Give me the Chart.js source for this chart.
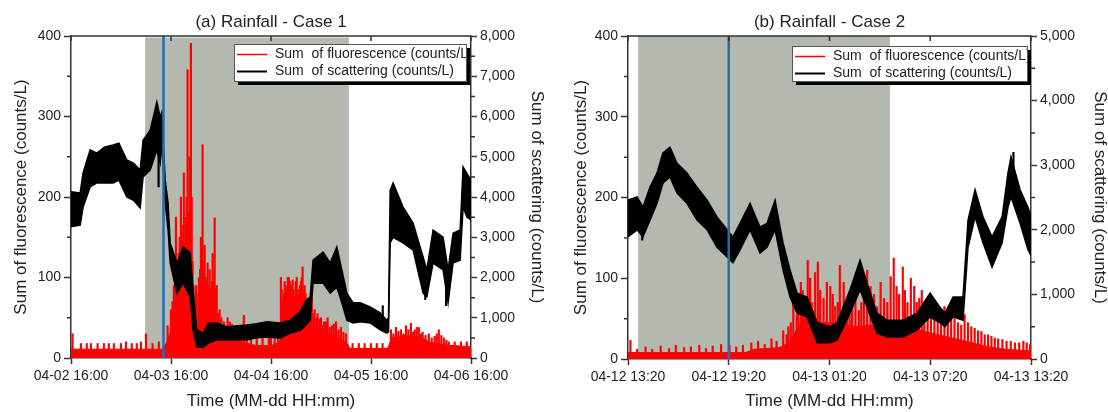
<!DOCTYPE html>
<html>
<head>
<meta charset="utf-8">
<script src="https://cdn.jsdelivr.net/npm/chart.js@4.4.1/dist/chart.umd.min.js"></script>
<style>
    body { margin: 0; background: #fff; }
    .panel { position: absolute; top: 0; width: 554px; height: 412px; }
</style>
</head>
<body>
<div class="panel" style="left:0"><canvas id="chartA"></canvas></div>
<div class="panel" style="left:554px"><canvas id="chartB"></canvas></div>
<script>
// x values are hours from the first tick
const xLabelsA = ['04-02 16:00', '04-03 16:00', '04-04 16:00', '04-05 16:00', '04-06 16:00'];
const xLabelsB = ['04-12 13:20', '04-12 19:20', '04-13 01:20', '04-13 07:20', '04-13 13:20'];

// scattering band (upper / lower edge of the noisy trace), right axis
const scaHoursA = [0, 2.2, 2.9, 4.6, 6.2, 8.0, 10.1, 11.5, 13.4, 15.0, 16.6, 17.3, 19.0, 20.6, 21.4, 21.8, 22.6, 23.3, 23.8, 25.4, 26.9, 28.6, 29.3, 30.2, 31.7, 33.0, 35.0, 37.4, 40.0, 42.2, 44.5, 47.0, 50.2, 52.6, 55.0, 56.2, 57.4, 58.1, 60.5, 62.2, 63.8, 65.0, 66.2, 67.7, 69.4, 71.8, 74.2, 75.8, 76.2, 76.6, 77.3, 79.7, 82.1, 84.5, 85.4, 86.9, 89.3, 90.5, 91.7, 93.4, 94.1, 95.0, 96.0];
const scaHiA = [4130, 4100, 4600, 5170, 5090, 5240, 5290, 5340, 4920, 4840, 4670, 5410, 5660, 6360, 5990, 6110, 4420, 3850, 2860, 2360, 2760, 2610, 1690, 700, 620, 870, 870, 770, 800, 820, 850, 900, 870, 940, 1150, 1400, 1520, 2430, 2630, 2360, 2760, 2190, 1610, 1370, 1370, 1270, 1120, 940, 1000, 4170, 4350, 3750, 3350, 2510, 2190, 3180, 3000, 2190, 3100, 3180, 4750, 4590, 4420];
const scaLoA = [3260, 3300, 3750, 4250, 4350, 4350, 4350, 4420, 4000, 3920, 3730, 4500, 4670, 5170, 4840, 5340, 3850, 3180, 2360, 1610, 1860, 1520, 700, 270, 270, 370, 450, 450, 450, 450, 500, 520, 500, 620, 680, 800, 940, 1860, 1860, 1610, 1760, 1370, 940, 870, 900, 870, 700, 620, 650, 2860, 3000, 2860, 2680, 1610, 1520, 2360, 2190, 1370, 2360, 2430, 3750, 3500, 3430];
// single excursions of the scattering trace [hour, low, high]
const scaOutHoursA = [21.2, 75.0, 85.2, 90.2];
const scaOutLoA = [4250, 700, 1450, 1300];
const scaOutHiA = [5600, 1300, 2100, 2300];

const scaHoursB = [0, 0.54, 0.89, 1.31, 1.73, 2.08, 2.5, 2.92, 3.51, 4.11, 4.71, 5.3, 5.9, 6.25, 6.67, 7.27, 7.86, 8.28, 8.76, 9.23, 9.65, 10.07, 10.66, 11.26, 12.03, 12.45, 13.22, 13.82, 14.23, 14.83, 15.43, 16.38, 17.21, 17.99, 18.58, 18.88, 19.36, 19.95, 20.25, 20.67, 21.14, 21.68, 22.28, 22.63, 22.81, 23.35, 23.82, 24];
const scaHiB = [2460, 2510, 2350, 2660, 2880, 3190, 3280, 3030, 2880, 2660, 2460, 2200, 2000, 1890, 2100, 2410, 2040, 2100, 2460, 1800, 1380, 1020, 960, 560, 500, 560, 1070, 1530, 1180, 710, 600, 600, 710, 1020, 800, 710, 960, 960, 2150, 2620, 2200, 1890, 2200, 2880, 3130, 2620, 2350, 2200];
const scaLoB = [1890, 2000, 1890, 2150, 2410, 2720, 2820, 2570, 2410, 2150, 2000, 1730, 1580, 1490, 1690, 2000, 1640, 1730, 2000, 1380, 960, 710, 650, 250, 250, 290, 710, 1070, 800, 400, 340, 340, 450, 650, 560, 500, 650, 600, 1730, 2200, 1800, 1420, 1800, 2350, 2510, 2100, 1690, 1600];
const scaOutHoursB = [0.89, 23.0];
const scaOutLoB = [1840, 2600];
const scaOutHiB = [2350, 3200];

// fluorescence: dense lower part and single spikes, left axis
const denseHoursA = [0, 22, 23, 24, 25, 26, 27, 28, 29, 30, 31, 32, 33, 34, 35, 37, 39, 41, 44, 48, 50, 51, 53, 55, 56, 57, 58, 60, 62, 64, 66, 67, 76, 77, 80, 84, 86, 90, 96];
const denseA = [11, 11, 20, 35, 55, 65, 70, 70, 60, 40, 60, 70, 60, 45, 35, 30, 25, 20, 16, 15, 20, 40, 55, 60, 55, 45, 40, 30, 30, 25, 20, 12, 12, 25, 28, 26, 20, 16, 14];
const spikeHoursA = [0.2, 2.2, 3.6, 4.6, 6.2, 7.7, 8.9, 10.1, 11.8, 13.0, 14.4, 15.6, 16.6, 17.8, 19.4, 20.9,
    23.0, 23.8, 24.5, 25.0, 25.4, 25.9, 26.2, 26.6, 26.9, 27.4, 27.8, 28.3, 28.6, 29.0, 29.8, 30.5, 31.0, 31.4, 31.9, 32.6, 33.1, 33.8, 34.3, 34.8, 35.5, 36.5, 37.4, 38.4, 39.6, 41.3, 43.0, 44.4, 45.8, 47.3, 48.7,
    50.2, 50.6, 51.1, 51.6, 52.1, 52.6, 53.0, 53.5, 54.0, 54.5, 55.0, 55.4, 55.9, 56.4, 56.9, 57.6, 58.3, 59.0, 59.8, 60.5, 61.4, 62.4, 63.4, 64.6, 65.8,
    67.4, 68.9, 70.3, 71.8, 73.2, 74.6,
    76.6, 77.8, 79.0, 80.2, 81.4, 82.3, 83.3, 84.2, 85.7, 87.1, 88.1, 89.3, 90.5, 91.9, 93.4, 94.8,
    24.2, 24.8, 25.2, 25.7, 26.0, 26.4, 26.75, 27.1, 27.6, 28.0, 28.45, 28.8, 29.2, 29.5, 30.0, 30.8, 31.2, 31.6, 32.1, 32.4, 32.9, 33.4, 33.6, 34.0, 34.5, 35.1, 35.9, 36.9, 37.9, 39.0, 40.5, 42.0, 47.8, 49.5,
    50.4, 50.9, 51.35, 51.85, 52.35, 52.8, 53.25, 53.75, 54.25, 54.75, 55.2, 55.65, 56.15, 56.65, 57.2, 58.0, 58.7, 59.4, 60.1, 61.0, 61.9, 62.9, 64.0, 65.2,
    77.2, 78.4, 79.6, 80.8, 81.9, 82.8, 83.8, 84.9, 86.4, 87.6, 88.7, 89.9];
const spikeA = [30, 18, 18, 18, 18, 18, 18, 18, 18, 20, 18, 18, 20, 30, 18, 20,
    40, 60, 90, 175, 120, 150, 200, 145, 230, 175, 358, 250, 391, 120, 90, 100, 150, 265, 140, 118, 110, 130, 174, 90, 60, 45, 50, 42, 40, 53, 35, 30, 28, 25, 30,
    100, 70, 95, 85, 100, 80, 97, 75, 100, 85, 95, 113, 90, 70, 65, 75, 60, 55, 50, 45, 50, 40, 45, 38, 30,
    18, 18, 18, 18, 18, 18,
    35, 38, 35, 40, 43, 35, 38, 32, 30, 27, 35, 25, 20, 20, 20, 20,
    70, 110, 95, 130, 100, 165, 120, 140, 200, 180, 150, 200, 90, 70, 80, 110, 130, 120, 100, 95, 90, 85, 95, 100, 85, 55, 50, 40, 45, 38, 35, 38, 25, 40,
    85, 80, 90, 100, 95, 90, 85, 95, 80, 90, 100, 85, 80, 60, 55, 55, 50, 48, 40, 45, 38, 42, 35, 32,
    30, 33, 30, 35, 32, 38, 30, 28, 25, 30, 28, 22];

const denseHoursB = [0, 7, 7.5, 9, 9.6, 10, 10.5, 11, 11.5, 12.5, 13.5, 14.5, 15.5, 16.5, 17.5, 18.5, 19.5, 20.5, 21.5, 22.5, 24];
const denseB = [8, 8, 12, 14, 20, 35, 50, 55, 45, 45, 40, 42, 45, 38, 35, 30, 25, 20, 15, 12, 10];
const spikeHoursB = [0.1, 0.5, 1.0, 1.4, 1.9, 2.4, 2.8, 3.3, 3.7, 4.2, 4.6, 5.0, 5.5, 6.0, 6.4, 6.8, 7.3, 7.7, 8.1, 8.5, 8.8, 9.2, 9.4, 9.65, 9.8, 10.1, 10.36, 10.66, 10.9, 11.1, 11.26, 11.6, 12.0, 12.3, 12.57, 13.0, 13.3, 13.7, 14.0, 14.4, 14.8, 15.2, 15.6, 15.78, 16.1, 16.32, 16.6, 17.0, 17.3, 17.6, 18.0, 18.4, 18.8, 19.2, 19.6, 20.0, 20.4, 20.8, 21.2, 21.6, 22.0, 22.5, 23.0, 23.5, 23.9,
    9.5, 10.0, 10.25, 10.5, 10.8, 11.0, 11.4, 11.8, 12.15, 12.45, 12.8, 13.15, 13.5, 13.85, 14.2, 14.6, 15.0, 15.4, 15.95, 16.45, 16.8, 17.15, 17.45, 17.8, 18.2, 18.6, 19.0, 19.4, 19.8, 20.2, 20.6, 21.0, 21.4, 21.8, 22.25, 22.75, 23.25, 23.7];
const spikeB = [23, 12, 15, 12, 16, 13, 17, 14, 15, 17, 13, 16, 18, 17, 15, 17, 20, 22, 18, 25, 22, 35, 30, 45, 85, 60, 85, 122, 70, 107, 120, 75, 90, 65, 116, 70, 85, 60, 78, 90, 65, 75, 102, 125, 80, 114, 70, 90, 75, 60, 80, 55, 65, 50, 45, 55, 40, 35, 30, 28, 25, 22, 20, 22, 18,
    40, 55, 95, 75, 100, 60, 85, 95, 80, 70, 95, 65, 100, 70, 110, 80, 95, 70, 90, 85, 100, 70, 85, 65, 70, 60, 55, 50, 42, 45, 38, 34, 30, 26, 24, 22, 20, 20];

// rainfall period (shaded) and marker line, in hours
const rainA = [17.8, 66.7];
const markerA = 22.2;
const rainB = [0.6, 15.6];
const markerB = 6.0;

const leftMinor = [50, 150, 250, 350];
const rightMinorA = [500, 1500, 2500, 3500, 4500, 5500, 6500, 7500];
const rightMinorB = [500, 1500, 2500, 3500, 4500];

const FONT = "'Liberation Sans', Arial, sans-serif";
const AXIS = '#333';
const TEXT = '#222';
Chart.defaults.font.family = FONT;
Chart.defaults.color = TEXT;

const pts = (xs, ys) => xs.map((x, i) => ({ x: x, y: ys[i] }));
const spans = (xs, lo, hi) => xs.map((x, i) => ({ x: x, y: [lo[i], hi[i]] }));

const deco = {
    id: 'deco',
    beforeDatasetsDraw(chart, args, o) {
        const { ctx, chartArea: a, scales: { x } } = chart;
        const x0 = x.getPixelForValue(o.rain[0]);
        const x1 = x.getPixelForValue(o.rain[1]);
        ctx.save();
        ctx.fillStyle = '#b4b9b0';
        ctx.fillRect(x0, a.top + o.shadeGap, x1 - x0, a.bottom - a.top - o.shadeGap);
        ctx.restore();
    },
    afterDatasetsDraw(chart, args, o) {
        const { ctx, chartArea: a, scales: { x } } = chart;
        const xm = x.getPixelForValue(o.marker);
        ctx.save();
        ctx.strokeStyle = '#1f6fae';
        ctx.lineWidth = 2.5;
        ctx.beginPath();
        ctx.moveTo(xm, a.top);
        ctx.lineTo(xm, a.bottom);
        ctx.stroke();
        ctx.restore();
    },
    afterDraw(chart, args, o) {
        const { ctx, chartArea: a, scales: { x, y, y1 } } = chart;
        ctx.save();
        ctx.strokeStyle = AXIS;
        ctx.lineWidth = 1.5;
        ctx.beginPath();
        // top frame and inward ticks
        ctx.moveTo(a.left, a.top);
        ctx.lineTo(a.right, a.top);
        x.ticks.forEach(t => {
            const px = x.getPixelForValue(t.value);
            ctx.moveTo(px, a.top);
            ctx.lineTo(px, a.top + 5);
        });
        // minor ticks
        leftMinor.forEach(v => {
            const py = y.getPixelForValue(v);
            ctx.moveTo(a.left - 4, py);
            ctx.lineTo(a.left, py);
        });
        o.rightMinor.forEach(v => {
            const py = y1.getPixelForValue(v);
            ctx.moveTo(a.right, py);
            ctx.lineTo(a.right + 4, py);
        });
        ctx.stroke();

        // title
        ctx.fillStyle = TEXT;
        ctx.font = '17px ' + FONT;
        ctx.textAlign = 'center';
        ctx.textBaseline = 'middle';
        ctx.fillText(o.title, (a.left + a.right) / 2, 22);

        // legend box with drop shadow
        const b = o.legend;
        ctx.fillStyle = '#000';
        ctx.fillRect(b.x + 4, b.y + 4, b.w, b.h);
        ctx.fillStyle = '#fff';
        ctx.fillRect(b.x, b.y, b.w, b.h);
        const rows = [['#ff0000', 1.5, 'Sum  of fluorescence (counts/L)'], ['#000', 2, 'Sum  of scattering (counts/L)']];
        ctx.save();
        ctx.beginPath();
        ctx.rect(b.x, b.y, b.w, b.h);
        ctx.clip();
        rows.forEach((r, i) => {
            const ry = b.y + (i === 0 ? 10.5 : 27.5);
            ctx.strokeStyle = r[0];
            ctx.lineWidth = r[1];
            ctx.beginPath();
            ctx.moveTo(b.x + 3, ry);
            ctx.lineTo(b.x + 33, ry);
            ctx.stroke();
            ctx.fillStyle = TEXT;
            ctx.font = '14px ' + FONT;
            ctx.textAlign = 'left';
            ctx.fillText(r[2], b.x + 41, ry);
        });
        ctx.restore();
        ctx.strokeStyle = '#555';
        ctx.lineWidth = 1;
        ctx.strokeRect(b.x + 0.5, b.y + 0.5, b.w, b.h);
        ctx.restore();
    }
};

function makeChart(id, c) {
    const ctx = document.getElementById(id).getContext('2d');
    return new Chart(ctx, {
        type: 'line',
        data: {
            datasets: [
                {
                    data: pts(c.scaHours, c.scaHi), yAxisID: 'y1', order: 0,
                    borderColor: '#000', backgroundColor: '#000', borderWidth: 1.5,
                    pointRadius: 0, fill: '+1'
                },
                {
                    data: pts(c.scaHours, c.scaLo), yAxisID: 'y1', order: 0,
                    borderColor: '#000', borderWidth: 1.5, pointRadius: 0, fill: false
                },
                {
                    type: 'bar', data: spans(c.outHours, c.outLo, c.outHi), yAxisID: 'y1', order: 0,
                    backgroundColor: '#000', borderWidth: 0, barThickness: 1.5
                },
                {
                    type: 'bar', data: pts(c.spikeHours, c.spike), yAxisID: 'y', order: 1,
                    backgroundColor: '#ff0000', borderWidth: 0, barThickness: 1.5
                },
                {
                    data: pts(c.denseHours, c.dense), yAxisID: 'y', order: 2,
                    borderColor: '#ff0000', backgroundColor: '#ff0000', borderWidth: 1,
                    pointRadius: 0, fill: 'origin'
                }
            ]
        },
        options: {
            responsive: true,
            maintainAspectRatio: false,
            animation: false,
            events: [],
            layout: { padding: { top: 36, left: 0, right: 0, bottom: 0 } },
            scales: {
                x: {
                    type: 'linear', min: 0, max: c.xMax, offset: false,
                    afterFit: s => { s.height = c.xH; },
                    ticks: {
                        stepSize: c.xMax / 4, autoSkip: false, maxRotation: 0, padding: 4,
                        font: { size: 14 }, color: TEXT,
                        callback: (v, i) => c.xLabels[i]
                    },
                    grid: { drawOnChartArea: false, offset: false, tickLength: 6, tickColor: AXIS, tickWidth: 1.5 },
                    border: { color: AXIS, width: 1.5 },
                    title: { display: true, text: 'Time (MM-dd HH:mm)', font: { size: 17 }, color: TEXT, padding: { top: 0, bottom: 0 } }
                },
                y: {
                    type: 'linear', position: 'left', min: 0, max: 400,
                    afterFit: s => { s.width = c.leftW; },
                    ticks: { stepSize: 100, padding: 3, font: { size: 14 }, color: TEXT },
                    grid: { drawOnChartArea: false, tickLength: 7, tickColor: AXIS, tickWidth: 1.5 },
                    border: { color: AXIS, width: 1.5 },
                    title: { display: true, text: 'Sum of fluorescence (counts/L)', font: { size: 17 }, color: TEXT, padding: { top: c.leftPad } }
                },
                y1: {
                    type: 'linear', position: 'right', min: 0, max: c.rightMax,
                    afterFit: s => { s.width = c.rightW; },
                    ticks: {
                        stepSize: 1000, padding: 3, font: { size: 14 }, color: TEXT,
                        callback: v => v.toLocaleString('en-US')
                    },
                    grid: { drawOnChartArea: false, tickLength: 6, tickColor: AXIS, tickWidth: 1.5 },
                    border: { color: AXIS, width: 1.5 },
                    title: { display: true, text: 'Sum of scattering (counts/L)', font: { size: 17 }, color: TEXT, padding: { top: c.rightPad } }
                }
            },
            plugins: {
                legend: { display: false },
                tooltip: { enabled: false },
                deco: {
                    title: c.title, rain: c.rain, marker: c.marker, shadeGap: c.shadeGap,
                    rightMinor: c.rightMinor, legend: c.legendBox
                }
            }
        },
        plugins: [deco]
    });
}

makeChart('chartA', {
    title: '(a) Rainfall - Case 1', xLabels: xLabelsA, xMax: 96, rightMax: 8000,
    scaHours: scaHoursA, scaHi: scaHiA, scaLo: scaLoA,
    outHours: scaOutHoursA, outLo: scaOutLoA, outHi: scaOutHiA,
    denseHours: denseHoursA, dense: denseA, spikeHours: spikeHoursA, spike: spikeA,
    rain: rainA, marker: markerA, shadeGap: 1.5, rightMinor: rightMinorA,
    leftW: 71, rightW: 83, xH: 54, leftPad: 11, rightPad: 7,
    legendBox: { x: 234, y: 44, w: 232, h: 37 }
});

makeChart('chartB', {
    title: '(b) Rainfall - Case 2', xLabels: xLabelsB, xMax: 24, rightMax: 5000,
    scaHours: scaHoursB, scaHi: scaHiB, scaLo: scaLoB,
    outHours: scaOutHoursB, outLo: scaOutLoB, outHi: scaOutHiB,
    denseHours: denseHoursB, dense: denseB, spikeHours: spikeHoursB, spike: spikeB,
    rain: rainB, marker: markerB, shadeGap: 0, rightMinor: rightMinorB,
    leftW: 74, rightW: 77, xH: 53, leftPad: 17, rightPad: -2,
    legendBox: { x: 238, y: 46, w: 235, h: 35 }
});
</script>
</body>
</html>
